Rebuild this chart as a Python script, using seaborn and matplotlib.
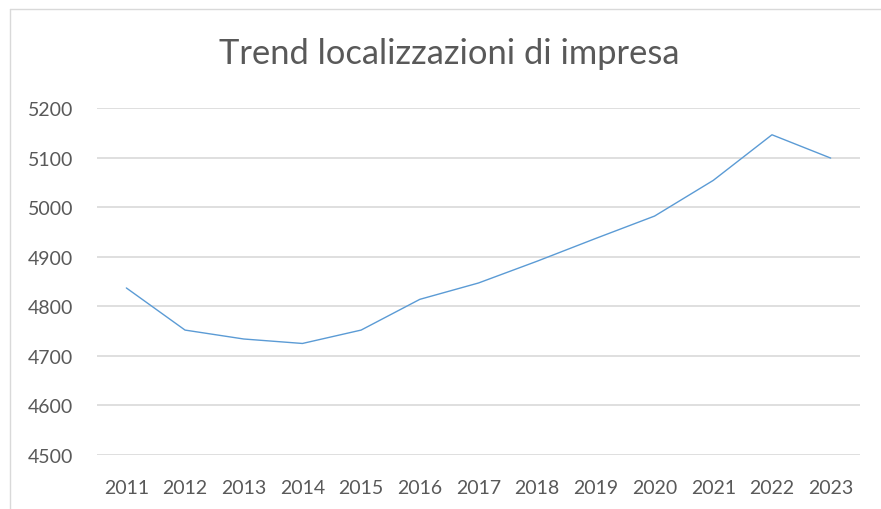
# %% Import packages

import pandas as pd
import seaborn as sns
import matplotlib
matplotlib.use('Agg')
import matplotlib.pyplot as plt
from matplotlib.lines import Line2D

# %% Data

years = ['2011', '2012', '2013', '2014', '2015', '2016', '2017',
         '2018', '2019', '2020', '2021', '2022', '2023']
localizzazioni = [4837, 4752, 4734, 4725, 4752, 4814, 4847,
                  4891, 4937, 4982, 5054, 5146, 5099]
y_ticks = [4500, 4600, 4700, 4800, 4900, 5000, 5100, 5200]

TITLE = 'Trend localizzazioni di impresa'

# %% Set figure aesthetics

sns.set_theme(style='white')
plt.rcParams['font.family'] = ['Lato', 'DejaVu Sans']
text_grey = '#595959'
grid_grey = '#d9d9d9'

# %% Generate line plot

df = pd.DataFrame({'anno': years, 'valore': localizzazioni})

fig = plt.figure(figsize=(8.81, 5.10), dpi=100)
ax = fig.add_axes([97 / 881, 1 - 456 / 510, (860 - 97) / 881, (456 - 109) / 510])

sns.lineplot(data=df, x='anno', y='valore', ax=ax, color='#5b9bd5', linewidth=1, sort=False)

ax.set_ylim(4500, 5200)
ax.set_xlim(-0.5, len(years) - 0.5)
ax.set_yticks(y_ticks)
ax.yaxis.grid(True, color=grid_grey, linewidth=1.2)
ax.set_axisbelow(True)
for side in ax.spines.values():
    side.set_visible(False)
ax.tick_params(axis='both', length=0, labelsize=14, labelcolor=text_grey)
ax.tick_params(axis='x', pad=17)
ax.tick_params(axis='y', pad=17)
ax.set_xlabel('')
ax.set_ylabel('')

fig.text(449 / 881, 1 - 54 / 510, TITLE, ha='center', va='center', fontsize=24.8, color=text_grey)

# chart frame (right and bottom edges are cut off in the original)
fig.add_artist(Line2D([9.5 / 881, 9.5 / 881], [0, 1 - 9.5 / 510], transform=fig.transFigure, color=grid_grey, linewidth=1))
fig.add_artist(Line2D([9.5 / 881, 1], [1 - 9.5 / 510, 1 - 9.5 / 510], transform=fig.transFigure, color=grid_grey, linewidth=1))

plt.savefig('out.png', dpi=100)
